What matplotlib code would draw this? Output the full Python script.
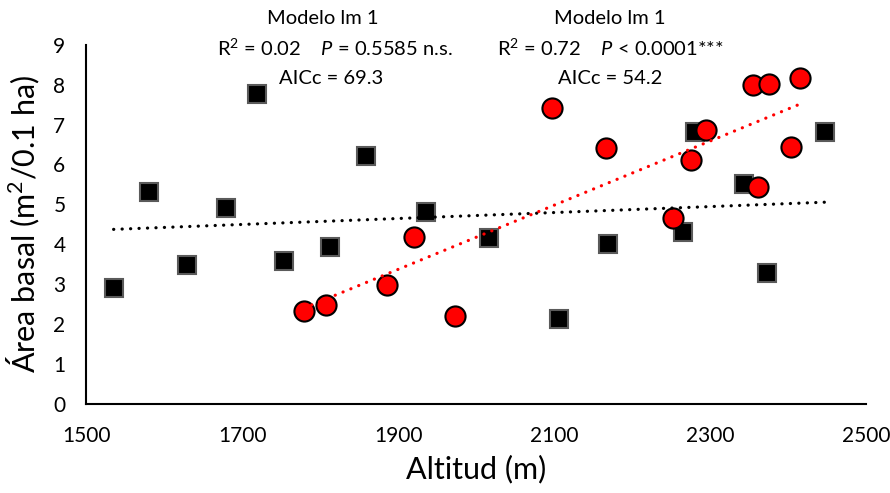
import numpy as np
import matplotlib.pyplot as plt

plt.rcParams['font.family'] = ['Lato', 'DejaVu Sans']
plt.rcParams['mathtext.fontset'] = 'custom'
plt.rcParams['mathtext.rm'] = 'Lato'
plt.rcParams['mathtext.it'] = 'Lato:italic'

# altitude (m) and basal area (m2 / 0.1 ha) for the two plot groups
alt_sq = [1535, 1581, 1629, 1679, 1719, 1754, 1813, 1859, 1936, 2017,
          2106, 2169, 2265, 2281, 2344, 2373, 2447]
ab_sq = [2.90, 5.30, 3.49, 4.92, 7.76, 3.57, 3.92, 6.21, 4.81, 4.15,
         2.12, 4.00, 4.30, 6.82, 5.51, 3.28, 6.82]

alt_ci = [1779, 1808, 1886, 1920, 1973, 2097, 2167, 2253, 2276, 2295,
          2355, 2362, 2376, 2404, 2416]
ab_ci = [2.33, 2.48, 2.97, 4.18, 2.20, 7.42, 6.41, 4.67, 6.11, 6.86,
         7.99, 5.43, 8.02, 6.43, 8.16]

xticks = [1500, 1700, 1900, 2100, 2300, 2500]
yticks = list(range(0, 10))

fig = plt.figure(figsize=(8.9, 4.93), dpi=100)
ax = fig.add_axes([0.097, 0.181, 0.876, 0.728])

ax.plot(alt_sq, ab_sq, 's', ms=13, mfc='black', mec='#5a5a5a', mew=1.5, zorder=3)
ax.plot(alt_ci, ab_ci, 'o', ms=14.5, mfc='#ff0000', mec='black', mew=1.5, zorder=4)

# linear trend lines
for xs, ys, col in [(alt_sq, ab_sq, 'black'), (alt_ci, ab_ci, '#ff0000')]:
    b, a = np.polyfit(xs, ys, 1)
    xx = np.array([min(xs), max(xs)])
    ax.plot(xx, a + b * xx, color=col, lw=2.3, dashes=(0.05, 2.6),
            dash_capstyle='round', zorder=5)

ax.set_xlim(1500, 2500)
ax.set_ylim(0, 9)
ax.set_xticks(xticks)
ax.set_yticks(yticks)
ax.tick_params(length=0, labelsize=15)
ax.tick_params(axis='x', pad=16)
ax.tick_params(axis='y', pad=15)
for s in ['top', 'right']:
    ax.spines[s].set_visible(False)
for s in ['left', 'bottom']:
    ax.spines[s].set_linewidth(1.5)

ax.set_xlabel('Altitud (m)', fontsize=22, labelpad=6)
ax.set_ylabel('Área basal (m$^2$/0.1 ha)', fontsize=22, labelpad=8)

txt = dict(fontsize=14.5, ha='center', va='center', transform=fig.transFigure)
fig.text(323 / 890, 1 - 18 / 493, 'Modelo lm 1', **txt)
fig.text(335 / 890, 1 - 48 / 493, 'R$^2$ = 0.02    $P$ = 0.5585 n.s.', **txt)
fig.text(331 / 890, 1 - 78 / 493, 'AICc = 69.3', **txt)
fig.text(610 / 890, 1 - 18 / 493, 'Modelo lm 1', **txt)
fig.text(610 / 890, 1 - 48 / 493, 'R$^2$ = 0.72    $P$ < 0.0001***', **txt)
fig.text(610 / 890, 1 - 78 / 493, 'AICc = 54.2', **txt)

fig.savefig('out.png', dpi=100)
